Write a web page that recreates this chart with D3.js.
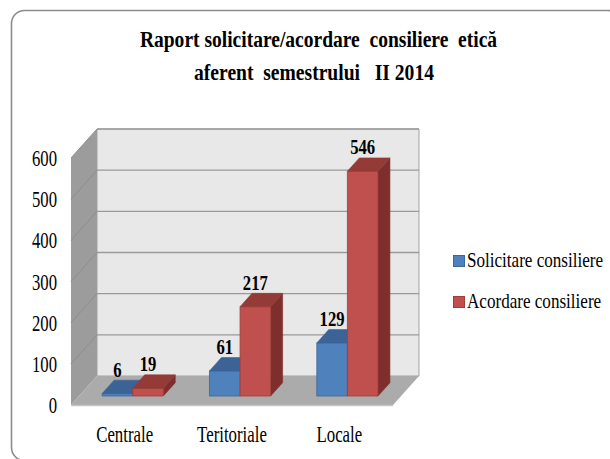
<!DOCTYPE html>
<html><head><meta charset="utf-8">
<script src="https://cdn.jsdelivr.net/npm/d3@7"></script>
<style>
html,body{margin:0;padding:0;background:#fff;}
svg{display:block;}
</style></head>
<body><svg id="c" width="610" height="459"></svg>
<script>
const categories = ["Centrale", "Teritoriale", "Locale"];
const seriesNames = ["Solicitare consiliere", "Acordare consiliere"];
const solicitare = [6, 61, 129];
const acordare = [19, 217, 546];
const tickValues = [0, 100, 200, 300, 400, 500, 600];
const titleLines = ["Raport solicitare/acordare  consiliere  etică", "aferent  semestrului   II 2014"];

const seriesValues = [solicitare, acordare];
const colors = [
  {front:"#4F81BD", top:"#3B6396", side:"#2F5282", stroke:"#3C679A"},
  {front:"#C0504D", top:"#943A37", side:"#7E2F2D", stroke:"#9E3D3A"}
];

const FAM = "'Liberation Serif'";
const capR = 0.67;
const cv = document.createElement("canvas").getContext("2d");
function sx(txt, fs, target, wt){ cv.font = `${wt||"normal"} ${fs}px ${FAM}`; return target / cv.measureText(txt).width; }

const svg = d3.select("#c");
const txt = () => svg.append("text").attr("font-family", FAM).attr("fill","#000");

svg.append("rect").attr("x",11.5).attr("y",10.5).attr("width",610).attr("height",450)
  .attr("rx",13).attr("fill","#fff").attr("stroke","#8c8c8c").attr("stroke-width",1.6);

const DX = 26, DY = -29;
const Z0 = 0.31, Z1 = 0.77;
const xL = 71, xR = 393;
const y = d3.scaleLinear().domain([0,600]).range([405,158]);
const x0 = d3.scaleBand().domain(categories).range([xL,xR]).paddingInner(0.43).paddingOuter(0.215);
const x1 = d3.scaleBand().domain(d3.range(seriesNames.length)).range([0,x0.bandwidth()]);
const P = (px,py,z)=>[px+z*DX, py+z*DY];
const poly = pts => pts.map(p=>p.join(",")).join(" ");

const g = svg.append("g");
g.append("polygon").attr("points",poly([P(xL,y(600),1),P(xR,y(600),1),P(xR,y(0),1),P(xL,y(0),1)]))
  .attr("fill","#E8E8E8").attr("stroke","#a3a3a3").attr("stroke-width",1);
g.append("polygon").attr("points",poly([P(xL,y(600),0),P(xL,y(600),1),P(xL,y(0),1),P(xL,y(0),0)]))
  .attr("fill","#9C9C9C");
tickValues.forEach(v=>{
  if (v===0) return;
  const a=P(xL,y(v),1), b=P(xR,y(v),1), c=P(xL,y(v),0);
  g.append("line").attr("x1",a[0]).attr("y1",a[1]).attr("x2",b[0]).attr("y2",b[1])
   .attr("stroke","#9a9a9a").attr("stroke-width",1.3);
  g.append("line").attr("x1",c[0]).attr("y1",c[1]).attr("x2",a[0]).attr("y2",a[1])
   .attr("stroke","#8e8e8e").attr("stroke-width",1);
});
g.append("polygon").attr("points",poly([P(xL,y(0),0),P(xR,y(0),0),P(xR,y(0),1),P(xL,y(0),1)]))
  .attr("fill","#ABABAB");
g.append("line").attr("x1",xL).attr("y1",y(0)+0.5).attr("x2",xR).attr("y2",y(0)+0.5)
  .attr("stroke","#c4c4c4").attr("stroke-width",1.5);

categories.forEach((cat,i)=>{
  seriesValues.forEach((vals,s)=>{
    const v = vals[i], c = colors[s];
    const bx = x0(cat)+x1(s), bw = x1.bandwidth();
    const yt = y(v), yb = y(0);
    const fr = [P(bx,yt,Z0),P(bx+bw,yt,Z0),P(bx+bw,yb,Z0),P(bx,yb,Z0)];
    const tp = [P(bx,yt,Z0),P(bx,yt,Z1),P(bx+bw,yt,Z1),P(bx+bw,yt,Z0)];
    const sd = [P(bx+bw,yt,Z0),P(bx+bw,yt,Z1),P(bx+bw,yb,Z1),P(bx+bw,yb,Z0)];
    g.append("polygon").attr("points",poly(sd)).attr("fill",c.side).attr("stroke",c.side).attr("stroke-width",0.6);
    g.append("polygon").attr("points",poly(fr)).attr("fill",c.front).attr("stroke",c.stroke).attr("stroke-width",0.8);
    g.append("polygon").attr("points",poly(tp)).attr("fill",c.top).attr("stroke",c.top).attr("stroke-width",0.6);
  });
});

// data labels
const fsD = 13.5/capR, sD = sx("546", fsD, 25, "bold");
categories.forEach((cat,i)=>{
  seriesValues.forEach((vals,s)=>{
    const v = vals[i];
    const bx = x0(cat)+x1(s)+x1.bandwidth()/2;
    const p = P(bx, y(v), Z1);
    const pf = P(bx, y(v), Z0);
    txt().attr("transform",`translate(${pf[0]},${p[1]-3.5}) scale(${sD},1)`)
      .attr("text-anchor","middle").attr("font-size",fsD).attr("font-weight","bold").text(v);
  });
});
// ticks
const fsT = 15.5/capR, sT = sx("600", fsT, 25);
tickValues.forEach(v=>{
  txt().attr("transform",`translate(57,${y(v)+8}) scale(${sT},1)`)
    .attr("text-anchor","end").attr("font-size",fsT).text(v);
});
// categories
const fsC = 16/capR, sC = sx("Centrale", fsC, 57);
categories.forEach(cat=>{
  txt().attr("transform",`translate(${x0(cat)+x0.bandwidth()/2},442) scale(${sC},1)`)
    .attr("text-anchor","middle").attr("font-size",fsC).text(cat);
});
// title
const fsTi = 15/capR;
const titleX = [318.5, 314];
const titleW = [357, 240];
titleLines.forEach((t,k)=>{
  const s = sx(t, fsTi, titleW[k], "bold");
  txt().attr("transform",`translate(${titleX[k]},${k===0?47:80}) scale(${s},1)`)
    .attr("text-anchor","middle").attr("font-size",fsTi).attr("font-weight","bold")
    .style("white-space","pre").text(t);
});
// legend
const fsL = 14/capR, sL = sx(seriesNames[0], fsL, 136);
seriesNames.forEach((n,s)=>{
  const ly = 267 + s*41;
  svg.append("rect").attr("x",453.5).attr("y",ly-11.5).attr("width",11).attr("height",11)
    .attr("fill",colors[s].front).attr("stroke",colors[s].stroke).attr("stroke-width",1);
  txt().attr("transform",`translate(467,${ly}) scale(${sL},1)`)
    .attr("font-size",fsL).text(n);
});
</script></body></html>
